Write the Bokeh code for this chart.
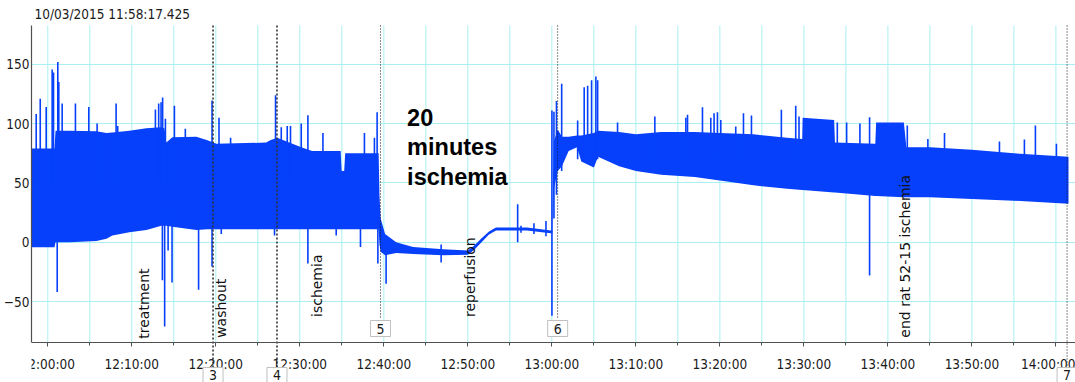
import numpy as np
from bokeh.plotting import figure
from bokeh.models import FixedTicker, Label
from bokeh.core.properties import value
from bokeh.embed import file_html
from bokeh.resources import INLINE

# ---- data (time in minutes after 12:00:00) ----
recording_start = "10/03/2015 11:58:17.425"

band_t = [-1.94, 0.80, 0.92, 2.58, 5.79, 6.98, 7.69, 9.71, 11.74, 13.52, 13.88, 14.11,
          14.83, 17.68, 19.00, 20.06, 26.00, 26.48, 27.31, 30.17, 31.47, 34.86, 34.98,
          35.28, 35.40, 39.38, 39.48, 39.62, 40.15, 41.47, 43.48, 47.05, 50.02, 50.74,
          51.57, 52.52, 53.35, 57.03, 59.88, 60.06, 60.24, 60.70, 61.20, 62.00, 63.00,
          63.50, 65.00, 65.50, 68.00, 70.00, 73.00, 77.00, 80.00, 84.00, 88.00, 89.80,
          89.85, 93.60, 93.70, 98.50, 98.60, 101.90, 102.20, 105.00, 110.00, 115.00, 121.50]
band_hi = [79, 79, 94, 94, 93.5, 92, 92.5, 94, 96, 97, 96, 84,
           88.5, 89, 86, 83, 84, 86, 88, 80, 77, 77, 60,
           60, 75, 75, 40, 20, 7, 0, -4, -6, -7, -3,
           3, 9, 12.5, 12.5, 10, 10, 85, 95, 89, 89, 90,
           90, 92, 94, 93, 91, 93, 93, 92, 91, 88, 87,
           105, 103, 84, 83, 101, 101, 80, 80, 78, 75, 72]
band_lo = [-4.2, -4.2, 0, 0, 1, 3, 5.6, 8.4, 10.4, 14, 14, 14,
           13, 10.4, 11, 11, 11, 11, 11, 11, 11, 11, 11,
           11, 11, 11, -2, -8, -11, -9, -10, -11, -10.5, -6.5,
           -0.5, 6.5, 10, 10, 7.5, 7.5, 45, 60, 64, 77, 80,
           68, 63, 72, 64, 60, 57, 55, 52, 48, 45, 44,
           44, 42, 42, 39, 39, 38, 38, 38, 36.5, 35, 32.5]

spike_t = [-1.38, -0.90, -0.19, 0.52, 0.68, 1.19, 1.31, 1.71, 3.29, 4.88, 5.87, 8.13,
           8.32, 12.81, 13.20, 13.48, 13.67, 14.00, 15.07, 16.37, 19.55, 20.38, 21.76,
           27.11, 27.79, 28.50, 28.89, 30.17, 30.96, 32.75, 37.69, 38.88, 39.20,
           1.12, 13.64, 13.91, 14.32, 14.79, 17.95, 19.55, 20.65, 26.99, 30.96, 34.33,
           37.22, 39.29,
           40.27, 46.82, 55.93, 56.33, 57.87, 59.30,
           60.01, 60.25, 60.55, 61.17,
           63.07, 63.85, 64.26, 64.73, 65.24, 65.45, 67.82, 72.26, 75.95, 76.15, 77.93,
           78.92, 79.31, 79.71, 80.11, 81.89, 82.81, 83.76, 87.32, 89.03, 89.42, 93.98,
           95.09, 96.67, 97.82, 102.31, 104.76, 106.74, 113.28, 116.25, 117.56, 120.06,
           97.82]
spike_lo = [50] * 33 + [-42, -32, -71, -7, -34, -40, -20.5, 7, 5.6, -18, 5.6, -4, -18] + \
           [-35, -17, 0, 8, 7, 5] + [-62, 20, 40, 60] + [70] * 32 + [-28]
spike_hi = [108, 121, 114, 145.6, 143, 152, 135, 117, 117, 114, 100, 117,
            98, 112, 117, 118, 122, 104, 115, 95.6, 119.5, 105, 88,
            124, 97, 98, 98, 100, 107, 92, 92, 88, 109.6] + [30] * 13 + \
           [-5, -2, 32, 14, 16, 18] + [111, 110, 119, 133.5] + \
           [102.6, 130.7, 132, 136.6, 139.7, 136.5, 101, 106, 105, 107.4, 113.8,
            105, 108.8, 109.6, 103, 97.6, 108.8, 106.8, 111.6, 115, 106, 101,
            101, 100, 105.4, 98.4, 87, 92, 85, 86.6, 98.4, 83] + [40]

event_t = [19.67, 27.28, 39.60, 60.69, 121.33]
event_id = ["3", "4", "5", "6", "7"]

comment_t = [11.44, 20.65, 32.03, 50.26, 102.04]
comment_text = ["treatment", "washout", "ischemia", "reperfusion", "end rat 52-15 ischemia"]

note_lines = ["20", "minutes", "ischemia"]

tick_minutes = [0, 10, 20, 30, 40, 50, 60, 70, 80, 90, 100, 110, 120]
tick_labels = ["12:00:00", "12:10:00", "12:20:00", "12:30:00", "12:40:00", "12:50:00",
               "13:00:00", "13:10:00", "13:20:00", "13:30:00", "13:40:00", "13:50:00",
               "14:00:00"]
minor_minutes = [5, 15, 25, 35, 45, 55, 65, 75, 85, 95, 105, 115]
y_ticks = [-50, 0, 50, 100, 150]

# ---- layout / styling ----
BLUE = "#0640fb"
GRID = "#aaf0f2"
AXIS = "#505050"
NARROW = "'Liberation Sans Narrow', 'DejaVu Sans Condensed', 'Liberation Sans', sans-serif"

Y_LO, Y_HI = -84.5, 182.7          # visible data window of the chart area
X_LO = -1.94
PX_PER_UNIT = 1.1864
Y_TOP = Y_HI + 25 / PX_PER_UNIT      # extend frame to canvas top
Y_BOT = Y_LO - 40 / PX_PER_UNIT      # extend frame to canvas bottom
X_HI = 121.5 + 7 / 8.409

p = figure(width=1075, height=382, x_range=(X_LO, X_HI), y_range=(Y_BOT, Y_TOP),
           output_backend="svg", toolbar_location=None,
           min_border_left=30, min_border_right=0, min_border_top=0, min_border_bottom=0)
p.outline_line_color = None
p.background_fill_color = "white"
p.border_fill_color = "white"

p.xaxis.ticker = FixedTicker(ticks=tick_minutes, minor_ticks=minor_minutes)
p.xaxis.major_label_overrides = {t: lab for t, lab in zip(tick_minutes, tick_labels)}
p.xaxis.fixed_location = Y_LO
p.yaxis.ticker = FixedTicker(ticks=y_ticks)
p.yaxis.bounds = (Y_LO, Y_HI)

for ax in (p.xaxis[0], p.yaxis[0]):
    ax.axis_line_color = AXIS
    ax.axis_line_width = 1.2
    ax.major_tick_line_color = AXIS
    ax.minor_tick_line_color = AXIS
    ax.major_label_text_font = NARROW
    ax.major_label_text_font_size = "13.5px"
    ax.major_label_text_color = "#1a1a1a"
    ax.major_tick_in = 0
    ax.minor_tick_in = 0

p.xaxis.major_tick_out = 4
p.xaxis.minor_tick_out = 3
p.xaxis.major_label_standoff = 9
p.yaxis.major_tick_out = 0
p.yaxis.minor_tick_out = 0
p.yaxis.major_label_standoff = 2

p.xgrid.visible = False
p.ygrid.grid_line_color = GRID
p.ygrid.grid_line_width = 1

# vertical grid lines limited to the chart area
vgrid = sorted(tick_minutes + minor_minutes)
p.segment(x0=vgrid, y0=[Y_LO] * len(vgrid), x1=vgrid, y1=[Y_HI] * len(vgrid),
          line_color=GRID, line_width=1, level="underlay")

# trace
p.varea(x=band_t, y1=band_lo, y2=band_hi, fill_color=BLUE)
p.segment(x0=spike_t, y0=spike_lo, x1=spike_t, y1=spike_hi, line_color=BLUE, line_width=1.6)

# event markers
for t, ev in zip(event_t, event_id):
    inside = ev in ("5", "6")
    heavy = ev in ("3", "4")
    box_y = -72.7 if inside else -112.3
    p.segment(x0=[t], y0=[Y_HI], x1=[t], y1=[box_y + 8 if inside else box_y],
              line_color="#333333" if heavy else "#111111",
              line_width=1.6 if heavy else 1,
              line_dash="2 2" if heavy else "1 2")
    p.add_layout(Label(x=t, y=box_y, text=ev,
                       text_align="center", text_baseline="middle",
                       text_font=NARROW, text_font_size="14px", text_color="#1a1a1a",
                       background_fill_color="white", border_line_color="#c0c0c0",
                       padding=dict(left=6, right=6, top=3, bottom=3)))

# comments (rotated)
comment_base = [-81.3, -80.6, -63.0, -63.0, -80.4]
p.text(x=comment_t, y=comment_base, text=comment_text, angle=np.pi / 2,
       text_align="left", text_baseline="middle",
       text_font=value("DejaVu Sans"), text_font_size="14px", text_color="#111111")

# bold note
for line, yv in zip(note_lines, [105.4, 80.1, 55.4]):
    p.add_layout(Label(x=42.77, y=yv, text=line, text_align="left",
                       text_baseline="alphabetic", text_font="Liberation Sans",
                       text_font_style="bold", text_font_size="23.5px", text_color="black"))

# recording start time
p.add_layout(Label(x=-1.58, y=192.0, text=recording_start, text_align="left",
                   text_baseline="middle", text_font=NARROW, text_font_size="13.5px",
                   text_color="#1a1a1a"))

open("out.html", "w").write(file_html(p, INLINE))
